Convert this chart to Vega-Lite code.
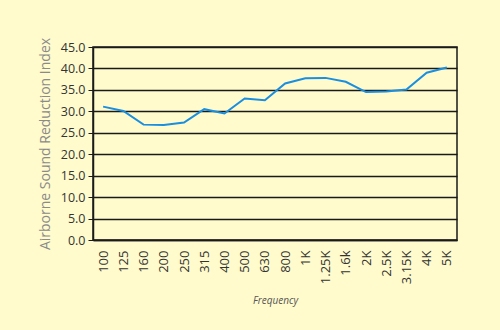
{
  "$schema": "https://vega.github.io/schema/vega-lite/v6.json",
  "autosize": {"type": "none"},
  "width": 364,
  "height": 193,
  "padding": {"left": 93, "top": 47, "right": 43, "bottom": 90},
  "background": "#FFFBCC",
  "config": {
    "font": "Open Sans",
    "view": {"stroke": "#1a1a1a", "strokeWidth": 1.5, "fill": "#FFFBCC"}
  },
  "data": {
    "values": [
      {"freq": "100", "value": 31.1},
      {"freq": "125", "value": 30.1},
      {"freq": "160", "value": 26.9},
      {"freq": "200", "value": 26.8},
      {"freq": "250", "value": 27.4},
      {"freq": "315", "value": 30.5},
      {"freq": "400", "value": 29.5},
      {"freq": "500", "value": 33.0},
      {"freq": "630", "value": 32.6},
      {"freq": "800", "value": 36.5},
      {"freq": "1K", "value": 37.7},
      {"freq": "1.25K", "value": 37.8},
      {"freq": "1.6k", "value": 36.9},
      {"freq": "2K", "value": 34.5},
      {"freq": "2.5K", "value": 34.6},
      {"freq": "3.15K", "value": 35.1},
      {"freq": "4K", "value": 39.0},
      {"freq": "5K", "value": 40.2}
    ]
  },
  "mark": {"type": "line", "color": "#1a8fe0", "strokeWidth": 2},
  "encoding": {
    "x": {
      "field": "freq",
      "type": "ordinal",
      "sort": null,
      "scale": {"padding": 0.5},
      "axis": {
        "title": "Frequency",
        "titleFont": "Open Sans",
        "titleFontStyle": "italic",
        "titleFontWeight": "normal",
        "titleFontSize": 10,
        "titleColor": "#555555",
        "titlePadding": 12,
        "labelAngle": -90,
        "labelAlign": "right",
        "labelBaseline": "middle",
        "labelFontSize": 13,
        "labelColor": "#333333",
        "labelPadding": 10,
        "ticks": false,
        "domain": true,
        "domainColor": "#1a1a1a",
        "domainWidth": 1.5,
        "grid": false
      }
    },
    "y": {
      "field": "value",
      "type": "quantitative",
      "scale": {"domain": [0, 45], "nice": false},
      "axis": {
        "title": "Airborne Sound Reduction Index",
        "titleFont": "Open Sans",
        "titleFontWeight": "normal",
        "titleFontSize": 14,
        "titleColor": "#8a8a8a",
        "titlePadding": 8,
        "values": [0, 5, 10, 15, 20, 25, 30, 35, 40, 45],
        "format": ".1f",
        "labelFontSize": 12.5,
        "labelColor": "#333333",
        "labelPadding": 3,
        "tickSize": 5,
        "tickColor": "#1a1a1a",
        "domainColor": "#1a1a1a",
        "domainWidth": 1.5,
        "grid": true,
        "gridColor": "#1a1a1a",
        "gridWidth": 1.5
      }
    }
  }
}
